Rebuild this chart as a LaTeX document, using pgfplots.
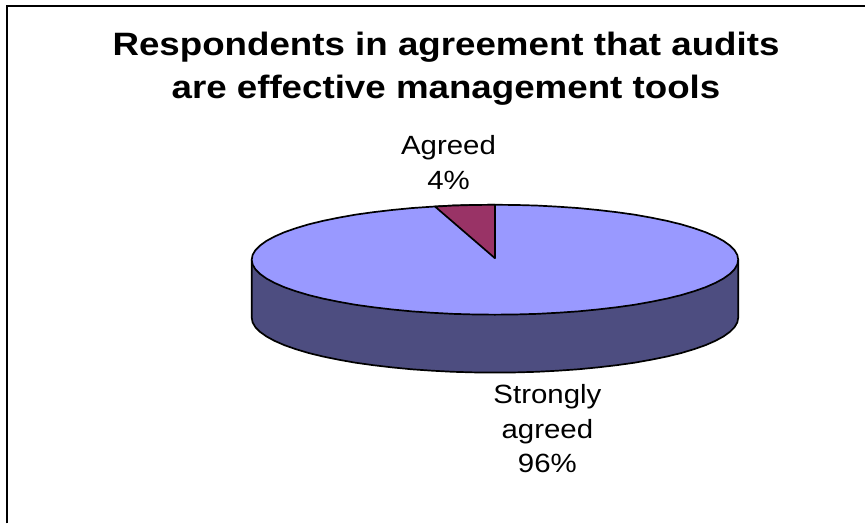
\documentclass[border=0pt]{standalone}
\usepackage{fontspec}
\setmainfont{Liberation Sans}
\newfontfamily\titlefont[FakeStretch=1.135]{Liberation Sans}
\newfontfamily\labelfont[FakeStretch=1.115]{Liberation Sans}
\usepackage{pgfplots}
\usepackage{pgfplotstable}
\pgfplotsset{compat=1.18}
\definecolor{topblue}{HTML}{9999FF}
\definecolor{sideblue}{HTML}{4D4D80}
\definecolor{wedgered}{HTML}{993366}
% Outer rim of the disc: left edge, lower arc, right edge
\pgfplotstableread{
x y
252.0 260.0
252.0 318.0
252.9 322.8
255.7 327.6
260.3 332.2
266.7 336.8
274.8 341.2
284.6 345.5
296.0 349.5
309.0 353.4
323.3 356.9
339.0 360.1
355.8 363.1
373.8 365.6
392.6 367.8
412.2 369.7
432.5 371.1
453.2 372.2
474.3 372.8
495.5 373.0
516.7 372.8
537.8 372.2
558.5 371.1
578.8 369.7
598.4 367.8
617.3 365.6
635.2 363.1
652.0 360.1
667.7 356.9
682.0 353.4
695.0 349.5
706.4 345.5
716.2 341.2
724.3 336.8
730.7 332.2
735.3 327.6
738.1 322.8
739.0 318.0
739.0 260.0
}\rimtable
% Top face of the disc, the 96% slice plus the 4% slice
\pgfplotstableread{
x y
495.5 205.0
516.7 205.2
537.8 205.8
558.5 206.9
578.8 208.3
598.4 210.2
617.3 212.4
635.2 214.9
652.0 217.9
667.7 221.1
682.0 224.6
695.0 228.5
706.4 232.5
716.2 236.8
724.3 241.2
730.7 245.8
735.3 250.4
738.1 255.2
739.0 260.0
738.1 264.8
735.3 269.6
730.7 274.2
724.3 278.8
716.2 283.2
706.4 287.5
695.0 291.5
682.0 295.4
667.7 298.9
652.0 302.1
635.2 305.1
617.3 307.6
598.4 309.8
578.8 311.7
558.5 313.1
537.8 314.2
516.7 314.8
495.5 315.0
474.3 314.8
453.2 314.2
432.5 313.1
412.2 311.7
392.6 309.8
373.8 307.6
355.8 305.1
339.0 302.1
323.3 298.9
309.0 295.4
296.0 291.5
284.6 287.5
274.8 283.2
266.7 278.8
260.3 274.2
255.7 269.6
252.9 264.8
252.0 260.0
252.9 255.2
255.7 250.4
260.3 245.8
266.7 241.2
274.8 236.8
284.6 232.5
296.0 228.5
309.0 224.6
323.3 221.1
339.0 217.9
355.8 214.9
373.8 212.4
392.6 210.2
412.2 208.3
432.5 206.9
453.2 205.8
474.3 205.2
}\toptable
% The 4% slice: 14.4 degrees from the vertical
\pgfplotstableread{
x y
495.5 258.5
435.5 206.8
453.2 205.8
474.3 205.2
495.5 205.0
}\slicetable
\begin{document}
\begin{tikzpicture}
\begin{axis}[
  at={(0,0)}, anchor=south west,
  width=866bp, height=524bp, scale only axis,
  xmin=0, xmax=866, ymin=0, ymax=524, y dir=reverse,
  hide axis, clip=false]
\path (axis cs:0,0) (axis cs:866,524);
% chart frame, left and top sides
\addplot[black, line width=1.9bp, line join=miter] coordinates {(7,524) (7,6) (866,6)};
\addplot[fill=sideblue, draw=black, line width=1.7bp, line join=round] table {\rimtable} -- cycle;
\addplot[fill=topblue, draw=black, line width=1.7bp, line join=round] table {\toptable} -- cycle;
\addplot[fill=wedgered, draw=black, line width=1.7bp, line join=round] table {\slicetable} -- cycle;
\node[font=\titlefont\bfseries\fontsize{32.5}{32.5}\selectfont, anchor=base] at (axis cs:446.5,56) {Respondents in agreement that audits};
\node[font=\titlefont\bfseries\fontsize{32.5}{32.5}\selectfont, anchor=base] at (axis cs:446.5,99) {are effective management tools};
\node[font=\labelfont\fontsize{26.5}{26.5}\selectfont, anchor=base] at (axis cs:449,155) {Agreed};
\node[font=\labelfont\fontsize{26.5}{26.5}\selectfont, anchor=base] at (axis cs:449,190) {4\%};
\node[font=\labelfont\fontsize{26.5}{26.5}\selectfont, anchor=base] at (axis cs:548,404) {Strongly};
\node[font=\labelfont\fontsize{26.5}{26.5}\selectfont, anchor=base] at (axis cs:548,439) {agreed};
\node[font=\labelfont\fontsize{26.5}{26.5}\selectfont, anchor=base] at (axis cs:548,473) {96\%};
\end{axis}
\end{tikzpicture}
\end{document}
